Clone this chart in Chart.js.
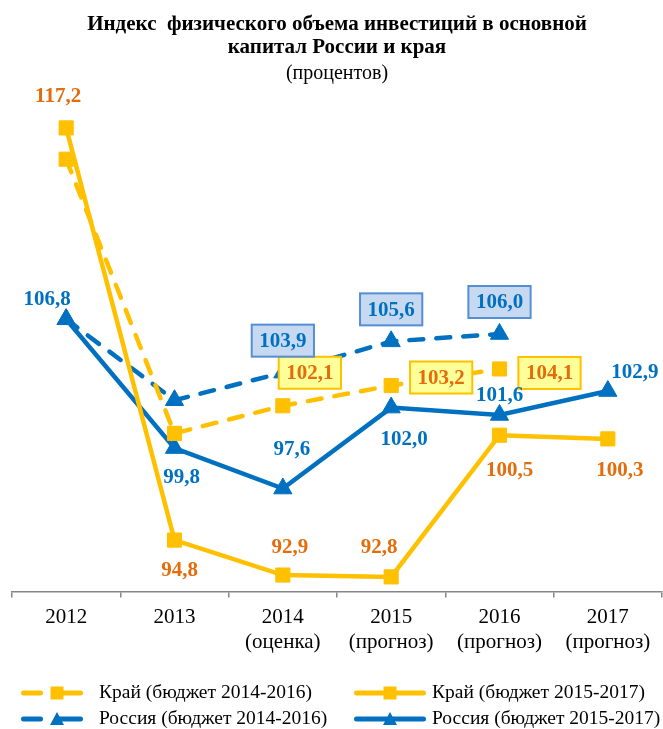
<!DOCTYPE html>
<html lang="ru">
<head>
<meta charset="utf-8">
<title>Индекс физического объема инвестиций</title>
<script src="https://cdn.jsdelivr.net/npm/chart.js@4"></script>
<style>
  body { margin: 0; background: #fff; }
  #wrap { position: relative; width: 663px; height: 729px; overflow: hidden; }
  #chart { position: absolute; left: 0; top: 0; }
  .item { position: absolute; height: 26px; white-space: nowrap;
          font: 19.5px "Liberation Serif", "Times New Roman", serif; color: #000; }
  .item svg { position: absolute; top: 3px; }
  .item span { position: absolute; top: 1px; }
</style>
</head>
<body>
<div id="wrap">
  <canvas id="chart" width="663" height="729"></canvas>
  <div id="legend"></div>
</div>
<script>
const years = [['2012'], ['2013'], ['2014', '(оценка)'], ['2015', '(прогноз)'], ['2016', '(прогноз)'], ['2017', '(прогноз)']];
const kraiOld = [115.5, 100.6, 102.1, 103.2, 104.1, null];
const kraiNew = [117.2, 94.8, 92.9, 92.8, 100.5, 100.3];
const rusOld = [106.8, 102.4, 103.9, 105.6, 106.0, null];
const rusNew = [106.8, 99.8, 97.6, 102.0, 101.6, 102.9];

const YEL = '#FFC000';
const BLUE = '#0070C0';
const ORANGE = '#E46C0A';
const SERIF = '"Liberation Serif", "Times New Roman", serif';

// where each value label sits, relative to its point (null = no label)
const labelCfg = [
  { color: ORANGE, box: { fill: '#FFFF99', stroke: YEL },
    offsets: [null, null, [27, -33], [50, -8], [50, 4], null] },
  { color: ORANGE, box: null,
    offsets: [[-8, -32], [5, 29], [7, -28], [-12, -30], [10, 34], [12, 31]] },
  { color: BLUE, box: { fill: '#C6D9F1', stroke: '#558ED5' },
    offsets: [null, null, [0, -32], [0, -32], [0, -32], null] },
  { color: BLUE, box: null,
    offsets: [[-19, -21], [7, 28], [9, -40], [13, 31], [0, -20], [27, -19]] }
];

const valueLabels = {
  id: 'valueLabels',
  afterDatasetsDraw(chart) {
    const ctx = chart.ctx;
    chart.data.datasets.forEach((ds, i) => {
      const cfg = labelCfg[i];
      chart.getDatasetMeta(i).data.forEach((pt, j) => {
        const off = cfg.offsets[j];
        if (!off || ds.data[j] == null) return;
        const x = pt.x + off[0];
        const y = pt.y + off[1];
        const text = ds.data[j].toFixed(1).replace('.', ',');
        ctx.save();
        ctx.font = 'bold 21px ' + SERIF;
        if (cfg.box) {
          const w = ctx.measureText(text).width + 15;
          const h = 32;
          ctx.fillStyle = cfg.box.fill;
          ctx.strokeStyle = cfg.box.stroke;
          ctx.lineWidth = 2;
          ctx.fillRect(x - w / 2, y - h / 2, w, h);
          ctx.strokeRect(x - w / 2, y - h / 2, w, h);
        }
        ctx.fillStyle = cfg.color;
        ctx.textAlign = 'center';
        ctx.textBaseline = 'middle';
        ctx.fillText(text, x, y + 1);
        ctx.restore();
      });
    });
  }
};

function series(label, data, color, dashed, marker) {
  return {
    label, data,
    borderColor: color, backgroundColor: color,
    borderWidth: 4.5,
    borderDash: dashed ? [14, 13] : [],
    borderCapStyle: dashed ? 'round' : 'butt',
    pointStyle: marker,
    pointRadius: marker === 'rect' ? 10 : 10.5,
    pointBorderWidth: 1,
    tension: 0
  };
}

new Chart(document.getElementById('chart'), {
  type: 'line',
  data: {
    labels: years,
    datasets: [
      series('Край (бюджет 2014-2016)', kraiOld, YEL, true, 'rect'),
      series('Край (бюджет 2015-2017)', kraiNew, YEL, false, 'rect'),
      series('Россия (бюджет 2014-2016)', rusOld, BLUE, true, 'triangle'),
      series('Россия (бюджет 2015-2017)', rusNew, BLUE, false, 'triangle')
    ]
  },
  options: {
    responsive: false,
    animation: false,
    layout: { autoPadding: false, padding: { left: 12, right: 1, top: 0, bottom: 67 } },
    plugins: {
      legend: { display: false },
      tooltip: { enabled: false },
      title: {
        display: true,
        text: ['Индекс  физического объема инвестиций в основной', 'капитал России и края'],
        color: '#000',
        font: { family: SERIF, size: 21, weight: 'bold', lineHeight: 1.1 },
        padding: { top: 13, bottom: 2 }
      },
      subtitle: {
        display: true,
        text: '(процентов)',
        color: '#000',
        font: { family: SERIF, size: 20, lineHeight: 1.2 },
        padding: { top: 1, bottom: 27 }
      }
    },
    scales: {
      x: {
        offset: true,
        // labels sit inside their categories, so no extra side padding is needed
        afterFit(scale) { scale.paddingLeft = 0; scale.paddingRight = 0; },
        grid: { offset: true, drawOnChartArea: false, drawTicks: true, tickLength: 6, color: '#868686', lineWidth: 1.5 },
        border: { display: true, color: '#868686', width: 1.5 },
        ticks: { color: '#000', font: { family: SERIF, size: 21, lineHeight: 1.2 }, padding: 7, maxRotation: 0, autoSkip: false }
      },
      y: { display: false, min: 92, max: 118 }
    }
  },
  plugins: [valueLabels]
});

// legend: two columns, like the original
const legendItems = [
  { text: 'Край (бюджет 2014-2016)', color: YEL, dashed: true, marker: 'rect', left: 21, textLeft: 99, top: 680 },
  { text: 'Край (бюджет 2015-2017)', color: YEL, dashed: false, marker: 'rect', left: 354, textLeft: 432, top: 680 },
  { text: 'Россия (бюджет 2014-2016)', color: BLUE, dashed: true, marker: 'triangle', left: 21, textLeft: 99, top: 706 },
  { text: 'Россия (бюджет 2015-2017)', color: BLUE, dashed: false, marker: 'triangle', left: 354, textLeft: 432, top: 706 }
];

function swatch(it) {
  const w = it.dashed ? 62 : 72;
  const c = it.color;
  const mx = 36;
  let line;
  if (it.dashed) {
    line = `<line x1="2.5" y1="10" x2="19.5" y2="10" stroke="${c}" stroke-width="5" stroke-linecap="round"/>` +
           `<line x1="${mx}" y1="10" x2="${w - 2.5}" y2="10" stroke="${c}" stroke-width="5" stroke-linecap="round"/>`;
  } else {
    line = `<line x1="2.5" y1="10" x2="${w - 2.5}" y2="10" stroke="${c}" stroke-width="5" stroke-linecap="round"/>`;
  }
  const m = it.marker === 'rect'
    ? `<rect x="${mx - 6.5}" y="3.5" width="13" height="13" fill="${c}"/>`
    : `<polygon points="${mx},3 ${mx + 7},16 ${mx - 7},16" fill="${c}"/>`;
  return `<svg style="left:${it.left}px" width="${w}" height="20" viewBox="0 0 ${w} 20">${line}${m}</svg>`;
}

document.getElementById('legend').innerHTML = legendItems.map((it) =>
  `<div class="item" style="left:0;top:${it.top}px;width:663px">` + swatch(it) +
  `<span style="left:${it.textLeft}px">${it.text}</span></div>`
).join('');
</script>
</body>
</html>
